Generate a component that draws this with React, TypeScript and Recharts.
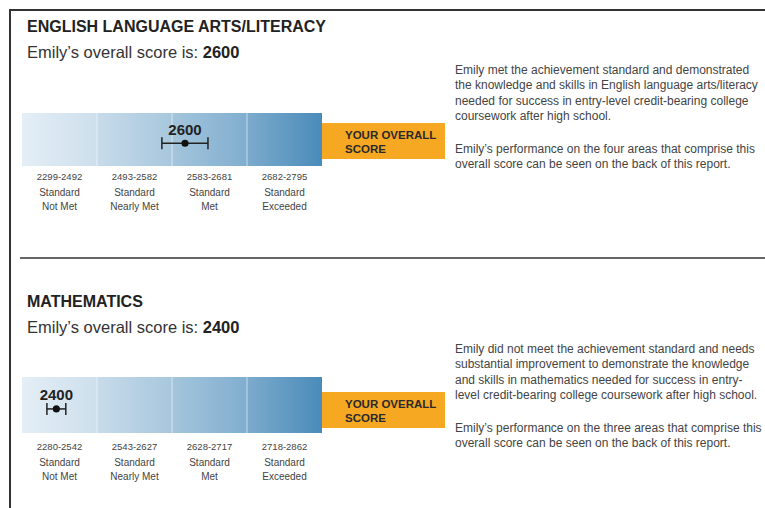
import {
  Bar,
  Cell,
  ComposedChart,
  ErrorBar,
  LabelList,
  ReferenceLine,
  Scatter,
  XAxis,
  YAxis,
  ZAxis
} from "recharts";

const levelNames = [
  ["Standard", "Not Met"],
  ["Standard", "Nearly Met"],
  ["Standard", "Met"],
  ["Standard", "Exceeded"]
];
const elaRanges = ["2299-2492", "2493-2582", "2583-2681", "2682-2795"];
const mathRanges = ["2280-2542", "2543-2627", "2628-2717", "2718-2862"];
const elaScore = 2600;
const elaError = 30;
const mathScore = 2400;
const mathError = 33;

const segmentColors = [
  ["#e4eef6", "#cddfec"],
  ["#c8dbea", "#a7c7dd"],
  ["#a4c5dc", "#80aecf"],
  ["#7cabcc", "#4a8bba"]
];

const FONT = '"Liberation Sans", Arial, Helvetica, sans-serif';

// where a score sits on the 0..4 band axis (each level gets one band)
function bandPos(ranges: string[], score: number) {
  for (let i = 0; i < ranges.length; i++) {
    const [lo, hi] = ranges[i].split("-").map(Number);
    if (score <= hi + 1 || i === ranges.length - 1) {
      return i + (score - lo) / (hi - lo);
    }
  }
  return 0;
}

function BandTick(props: any) {
  const { x, y, payload, index, top } = props;
  const names = levelNames[index] || ["", ""];
  return (
    <g>
      <text x={x} y={y} textAnchor="middle" fontFamily={FONT} fill="#444">
        <tspan x={x} dy={top} fontSize={9.5}>
          {payload.value}
        </tspan>
        <tspan x={x} dy={16} fontSize={10}>
          {names[0]}
        </tspan>
        <tspan x={x} dy={14} fontSize={10}>
          {names[1]}
        </tspan>
      </text>
    </g>
  );
}

function ScoreBand({
  id,
  ranges,
  score,
  error,
  barHeight,
  axisHeight,
  tickTop
}: {
  id: string;
  ranges: string[];
  score: number;
  error: number;
  barHeight: number;
  axisHeight: number;
  tickTop: number;
}) {
  const bands = ranges.map((r) => ({ range: r, full: 1 }));
  const p = bandPos(ranges, score);
  const point = [
    {
      pos: p,
      y: 0.43,
      err: [p - bandPos(ranges, score - error), bandPos(ranges, score + error) - p],
      label: String(score)
    }
  ];
  return (
    <ComposedChart
      width={300}
      height={barHeight + axisHeight}
      data={bands}
      margin={{ top: 0, right: 0, bottom: 0, left: 0 }}
      barCategoryGap={0}
      barGap={0}
    >
      <defs>
        {segmentColors.map((c, i) => (
          <linearGradient key={i} id={`${id}-seg-${i}`} x1="0" y1="0" x2="1" y2="0">
            <stop offset="0%" stopColor={c[0]} />
            <stop offset="100%" stopColor={c[1]} />
          </linearGradient>
        ))}
      </defs>
      <XAxis
        xAxisId="band"
        dataKey="range"
        interval={0}
        axisLine={false}
        tickLine={false}
        tickSize={0}
        tickMargin={0}
        height={axisHeight}
        tick={<BandTick top={tickTop} />}
      />
      <XAxis xAxisId="pos" dataKey="pos" type="number" domain={[0, 4]} allowDataOverflow hide />
      <YAxis yAxisId="bar" type="number" domain={[0, 1]} hide />
      <YAxis yAxisId="pt" dataKey="y" type="number" domain={[0, 1]} hide />
      <ZAxis range={[40, 40]} />
      <Bar xAxisId="band" yAxisId="bar" dataKey="full" isAnimationActive={false}>
        {bands.map((b, i) => (
          <Cell key={b.range} fill={`url(#${id}-seg-${i})`} />
        ))}
      </Bar>
      {[1, 2, 3].map((x) => (
        <ReferenceLine
          key={x}
          xAxisId="pos"
          yAxisId="bar"
          x={x}
          stroke="#ffffff"
          strokeOpacity={0.55}
          strokeWidth={1}
        />
      ))}
      <Scatter
        xAxisId="pos"
        yAxisId="pt"
        data={point}
        fill="#111"
        isAnimationActive={false}
      >
        <ErrorBar dataKey="err" direction="x" width={6} stroke="#222" strokeWidth={1.5} />
        <LabelList
          dataKey="label"
          position="top"
          offset={5}
          fill="#222"
          fontSize={15}
          fontWeight="bold"
          fontFamily={FONT}
        />
      </Scatter>
    </ComposedChart>
  );
}

function OrangeBox({ top }: { top: number }) {
  return (
    <div
      style={{
        position: "absolute",
        left: 322,
        top,
        width: 123,
        height: 36,
        background: "#f6a823",
        boxSizing: "border-box",
        paddingLeft: 23,
        paddingTop: 5,
        fontFamily: FONT,
        fontWeight: "bold",
        fontSize: 11.5,
        lineHeight: "14px",
        color: "#2a2a2a"
      }}
    >
      YOUR OVERALL
      <br />
      SCORE
    </div>
  );
}

function Paragraphs({ top, lines1, lines2 }: { top: number; lines1: string[]; lines2: string[] }) {
  const style = {
    margin: 0,
    fontFamily: FONT,
    fontSize: 12,
    lineHeight: "15.3px",
    color: "#444"
  };
  return (
    <div style={{ position: "absolute", left: 455, top, whiteSpace: "nowrap" }}>
      <p style={style}>
        {lines1.map((l, i) => (
          <span key={i}>
            {l}
            <br />
          </span>
        ))}
      </p>
      <p style={{ ...style, marginTop: 18 }}>
        {lines2.map((l, i) => (
          <span key={i}>
            {l}
            <br />
          </span>
        ))}
      </p>
    </div>
  );
}

function Heading({ top, title, score }: { top: number; title: string; score: number }) {
  return (
    <div style={{ position: "absolute", left: 27, top, fontFamily: FONT, whiteSpace: "nowrap" }}>
      <div style={{ fontSize: 16, fontWeight: "bold", color: "#222", lineHeight: "20px" }}>{title}</div>
      <div style={{ fontSize: 16.5, color: "#333", lineHeight: "20px", marginTop: 5 }}>
        Emily’s overall score is: <b style={{ color: "#222" }}>{score}</b>
      </div>
    </div>
  );
}

export default function App() {
  return (
    <div
      style={{
        position: "absolute",
        left: 0,
        top: 0,
        width: 765,
        height: 508,
        background: "#fff",
        overflow: "hidden"
      }}
    >
      <div style={{ position: "absolute", left: 9, top: 9, width: 756, height: 2, background: "#333" }} />
      <div style={{ position: "absolute", left: 9, top: 9, width: 2, height: 499, background: "#333" }} />
      <div style={{ position: "absolute", left: 20, top: 257, width: 745, height: 2, background: "#666" }} />

      <Heading top={17} title="ENGLISH LANGUAGE ARTS/LITERACY" score={elaScore} />
      <div style={{ position: "absolute", left: 22, top: 113 }}>
        <ScoreBand
          id="ela"
          ranges={elaRanges}
          score={elaScore}
          error={elaError}
          barHeight={53}
          axisHeight={50}
          tickTop={14}
        />
      </div>
      <OrangeBox top={123} />
      <Paragraphs
        top={63}
        lines1={[
          "Emily met the achievement standard and demonstrated",
          "the knowledge and skills in English language arts/literacy",
          "needed for success in entry-level credit-bearing college",
          "coursework after high school."
        ]}
        lines2={[
          "Emily’s performance on the four areas that comprise this",
          "overall score can be seen on the back of this report."
        ]}
      />

      <Heading top={292} title="MATHEMATICS" score={mathScore} />
      <div style={{ position: "absolute", left: 22, top: 377 }}>
        <ScoreBand
          id="math"
          ranges={mathRanges}
          score={mathScore}
          error={mathError}
          barHeight={56}
          axisHeight={52}
          tickTop={17}
        />
      </div>
      <OrangeBox top={392} />
      <Paragraphs
        top={342}
        lines1={[
          "Emily did not meet the achievement standard and needs",
          "substantial improvement to demonstrate the knowledge",
          "and skills in mathematics needed for success in entry-",
          "level credit-bearing college coursework after high school."
        ]}
        lines2={[
          "Emily’s performance on the three areas that comprise this",
          "overall score can be seen on the back of this report."
        ]}
      />
    </div>
  );
}
